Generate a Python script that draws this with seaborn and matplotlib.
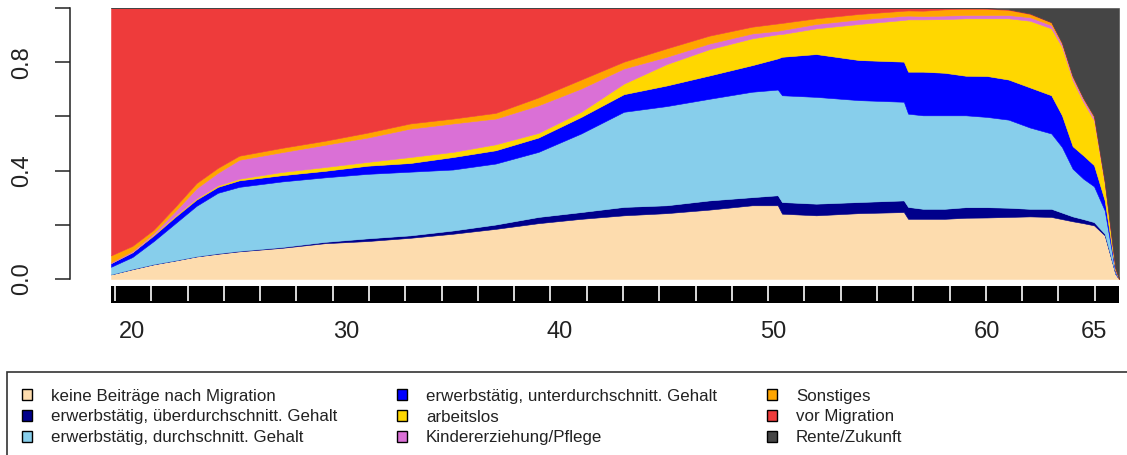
import numpy as np
import pandas as pd
import matplotlib
matplotlib.use("Agg")
import matplotlib.pyplot as plt
from matplotlib.patches import Patch, Rectangle
import seaborn as sns

ages = [19, 20, 21, 22, 23, 24, 25, 27, 29, 31,
        33, 35, 37, 39, 41, 43, 45, 47, 49,
        50.2, 50.4, 52, 54, 56.1, 56.3,
        57, 58, 59, 60, 61, 62, 63, 63.5, 64, 64.5, 65, 65.5, 66, 66.17]

keine_beitraege = [.017, .036, .054, .068, .083, .093, .102, .115, .132, .14,
                   .152, .167, .185, .206, .222, .235, .243, .256, .272,
                   .272, .241, .235, .243, .247, .222,
                   .222, .222, .226, .227, .229, .231, .229, .221, .213, .206, .198, .161, .019, 0]
ueber_gehalt = [0, .001, .001, .001, .001, .002, .002, .003, .005, .01,
                .009, .012, .016, .023, .025, .031, .029, .034, .03,
                .037, .043, .043, .041, .043, .044,
                .037, .037, .039, .038, .034, .028, .03, .024, .018, .015, .012, .006, .001, 0]
durch_gehalt = [.028, .044, .085, .136, .186, .223, .236, .242, .238, .238,
                .235, .225, .225, .24, .29, .351, .366, .375, .389,
                .39, .394, .394, .376, .364, .344,
                .345, .345, .339, .333, .325, .3, .278, .242, .176, .149, .132, .086, .005, 0]
unter_gehalt = [.014, .018, .021, .024, .023, .022, .024, .023, .024, .03,
                .032, .046, .049, .053, .061, .065, .076, .086, .098,
                .115, .142, .158, .148, .148, .155,
                .161, .157, .146, .151, .148, .148, .141, .117, .083, .086, .078, .037, .005, 0]
arbeitslos = [0, 0, .003, .004, .004, .005, .006, .012, .014, .014,
              .022, .019, .022, .017, .019, .039, .079, .097, .099,
              .089, .084, .095, .133, .154, .193,
              .193, .198, .212, .213, .226, .246, .247, .253, .244, .198, .166, .062, .005, 0]
kinder_pflege = [.003, .004, .006, .017, .038, .047, .07, .073, .082, .09,
                 .105, .105, .095, .102, .086, .056, .027, .021, .018,
                 .013, .015, .016, .017, .015, .014,
                 .012, .013, .012, .012, .012, .013, .012, .01, .01, .01, .01, .004, .002, 0]
sonstiges = [.025, .019, .012, .016, .019, .018, .015, .016, .015, .018,
             .019, .018, .021, .029, .033, .025, .031, .029, .025,
             .027, .026, .021, .02, .019, .019,
             .02, .023, .023, .023, .019, .012, .01, .005, .005, .004, .005, .004, .003, 0]
vor_migration = [.913, .878, .818, .734, .646, .59, .545, .516, .49, .46,
                 .426, .408, .387, .33, .264, .198, .149, .102, .069,
                 .057, .055, .038, .022, .01, .009,
                 .01, .005, .003, .002, .002, .002, .001, 0, 0, 0, 0, 0, 0, 0]
rente_zukunft = [0, 0, 0, 0, 0, 0, 0, 0, 0, 0,
                 0, 0, 0, 0, 0, 0, 0, 0, 0,
                 0, 0, 0, 0, 0, 0,
                 0, 0, 0, .001, .005, .02, .052, .128, .251, .332, .399, .64, .96, 1]

state_labels = ["keine Beiträge nach Migration",
                "erwerbstätig, überdurchschnitt. Gehalt",
                "erwerbstätig, durchschnitt. Gehalt",
                "erwerbstätig, unterdurchschnitt. Gehalt",
                "arbeitslos",
                "Kindererziehung/Pflege",
                "Sonstiges",
                "vor Migration",
                "Rente/Zukunft"]
state_colors = ["#FDDCAE", "#00008B", "#87CEEB", "#0000FF", "#FFD700",
                "#DA70D6", "#FFA500", "#EE3B3B", "#454545"]

x_ticks = [20, 30, 40, 50, 60, 65]

sns.set_theme(style="white")
plt.rcParams["font.family"] = ["Liberation Sans", "DejaVu Sans"]

df = pd.DataFrame(
    dict(zip(state_labels, [keine_beitraege, ueber_gehalt, durch_gehalt, unter_gehalt,
                            arbeitslos, kinder_pflege, sonstiges, vor_migration,
                            rente_zukunft])),
    index=ages,
)

W, H = 1127, 455
fig = plt.figure(figsize=(W / 100, H / 100), dpi=100)

# main stacked state distribution
ax = fig.add_axes([111 / W, 1 - 279 / H, 1008 / W, 271 / H])
ax.stackplot(df.index, df.T.values, colors=state_colors, linewidth=0.4, edgecolor="face")
ax.set_xlim(19.0, 66.17)
ax.set_ylim(0, 1)
for side in ["top", "right", "bottom"]:
    ax.spines[side].set_visible(False)
ax.spines["left"].set_position(("outward", 29.5))
ax.spines["left"].set_color("#222222")
ax.spines["left"].set_linewidth(1.1)
ax.set_xticks([])
ax.set_yticks([0, 0.2, 0.4, 0.6, 0.8, 1.0])
ax.set_yticklabels(["0.0", "", "0.4", "", "0.8", ""], rotation=90, va="center")
ax.tick_params(axis="y", left=True, length=10.8, width=1.1, color="#222222",
               pad=16, labelsize=17, labelcolor="#222222")

# dense tick band under the plot
bx = fig.add_axes([111 / W, 1 - 303 / H, 1008 / W, 17 / H])
bx.set_facecolor("black")
bx.set_xlim(ax.get_xlim())
bx.set_ylim(0, 1)
bx.vlines(np.arange(19.19, 66.0, 1.698), 0.12, 1, color="white", linewidth=1.2)
for s in bx.spines.values():
    s.set_visible(False)
bx.set_yticks([])
bx.set_xticks(x_ticks)
bx.set_xticklabels([str(t) for t in x_ticks])
bx.tick_params(axis="x", length=0, pad=13, labelsize=17, labelcolor="#222222")

# legend: frame + three columns
fig.add_artist(Rectangle((7 / W, -0.1), 1.2, (H - 372) / H + 0.1, transform=fig.transFigure,
                         fill=False, edgecolor="#333333", linewidth=1.2))
handles = [Patch(facecolor=c, edgecolor="black", linewidth=1.0) for c in state_colors]
col_x = [22, 397, 767]
for i, cx in enumerate(col_x):
    fig.legend(handles[3 * i:3 * i + 3], state_labels[3 * i:3 * i + 3],
               loc="center left", bbox_to_anchor=(cx / W, 1 - 417 / H),
               frameon=False, fontsize=12.2, handlelength=0.6, handleheight=0.6,
               handletextpad=1.1, labelspacing=0.34, borderpad=0, borderaxespad=0,
               labelcolor="#222222")

fig.savefig("out.png", dpi=100)
